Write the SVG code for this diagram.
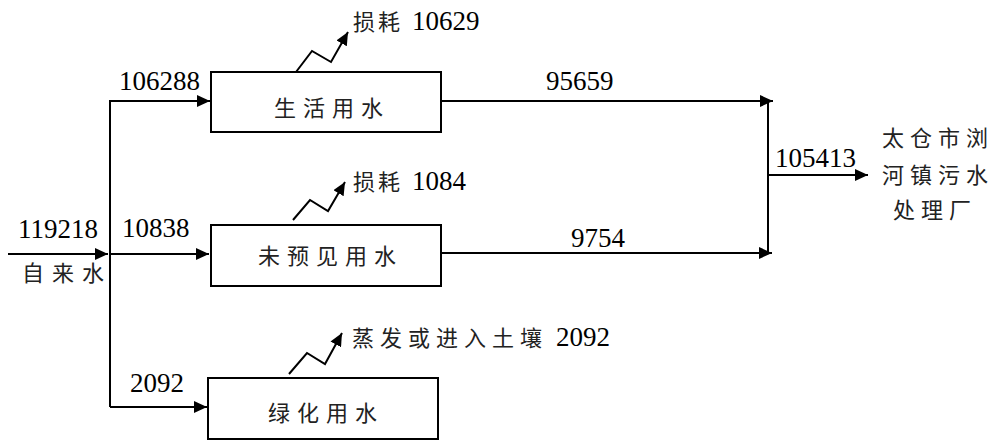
<svg xmlns="http://www.w3.org/2000/svg" width="997" height="444" viewBox="0 0 997 444">
<style>
.box{fill:#fff;stroke:#000;stroke-width:2}
.ln{fill:none;stroke:#000;stroke-width:2}
.cn{font-family:"Noto Sans CJK SC","Noto Sans CJK JP",sans-serif;font-size:22px;fill:#222}
.num{font-family:"Liberation Serif","DejaVu Serif",serif;font-size:27px;fill:#000}
</style>
<defs>
<marker id="ah" markerUnits="userSpaceOnUse" markerWidth="14" markerHeight="12" refX="13" refY="6" orient="auto">
<path d="M0,0 L13,6 L0,12 z" fill="#000"/>
</marker>
</defs>
<g id="connectors">
<path class="ln" d="M8,254 H108" marker-end="url(#ah)"/>
<path class="ln" d="M110,407 V101 H210" marker-end="url(#ah)"/>
<path class="ln" d="M110,254 H209" marker-end="url(#ah)"/>
<path class="ln" d="M110,407 H207" marker-end="url(#ah)"/>
<path class="ln" d="M441,101 H773" marker-end="url(#ah)"/>
<path class="ln" d="M441,253 H772" marker-end="url(#ah)"/>
<path class="ln" d="M768,101 V254"/>
<path class="ln" d="M768,175 H868" marker-end="url(#ah)"/>
<path class="ln" d="M296,72 L312,51 L331,62 L348,32" marker-end="url(#ah)"/>
<path class="ln" d="M293,220 L310,200 L328,211 L345,182" marker-end="url(#ah)"/>
<path class="ln" d="M289,374 L307,353 L325,364 L342,333" marker-end="url(#ah)"/>
</g>
<g id="source">
<text class="num" x="18" y="238">119218</text>
<text class="cn" x="22" y="281" letter-spacing="8">自来水</text>
</g>
<g id="node-living">
<rect class="box" x="211" y="72" width="230" height="60"/>
<text class="cn" x="274" y="116" letter-spacing="7">生活用水</text>
</g>
<g id="node-unforeseen">
<rect class="box" x="211" y="225" width="230" height="61"/>
<text class="cn" x="258" y="264" letter-spacing="7">未预见用水</text>
</g>
<g id="node-green">
<rect class="box" x="208" y="378" width="230" height="61"/>
<text class="cn" x="268" y="421" letter-spacing="7">绿化用水</text>
</g>
<g id="plant">
<text class="cn" x="882" y="146" letter-spacing="6">太仓市浏</text>
<text class="cn" x="882" y="183" letter-spacing="6">河镇污水</text>
<text class="cn" x="893" y="218" letter-spacing="6">处理厂</text>
</g>
<g id="labels">
<text class="num" x="119" y="90">106288</text>
<text class="num" x="122" y="237">10838</text>
<text class="num" x="130" y="392">2092</text>
<text class="num" x="546" y="90">95659</text>
<text class="num" x="571" y="247">9754</text>
<text class="num" x="775" y="167">105413</text>
<text x="353" y="30"><tspan class="cn" letter-spacing="3">损耗</tspan><tspan class="num" x="412">10629</tspan></text>
<text x="353" y="190"><tspan class="cn" letter-spacing="3">损耗</tspan><tspan class="num" x="412">1084</tspan></text>
<text x="352" y="346"><tspan class="cn" letter-spacing="6">蒸发或进入土壤</tspan><tspan class="num" x="556">2092</tspan></text>
</g>
</svg>
